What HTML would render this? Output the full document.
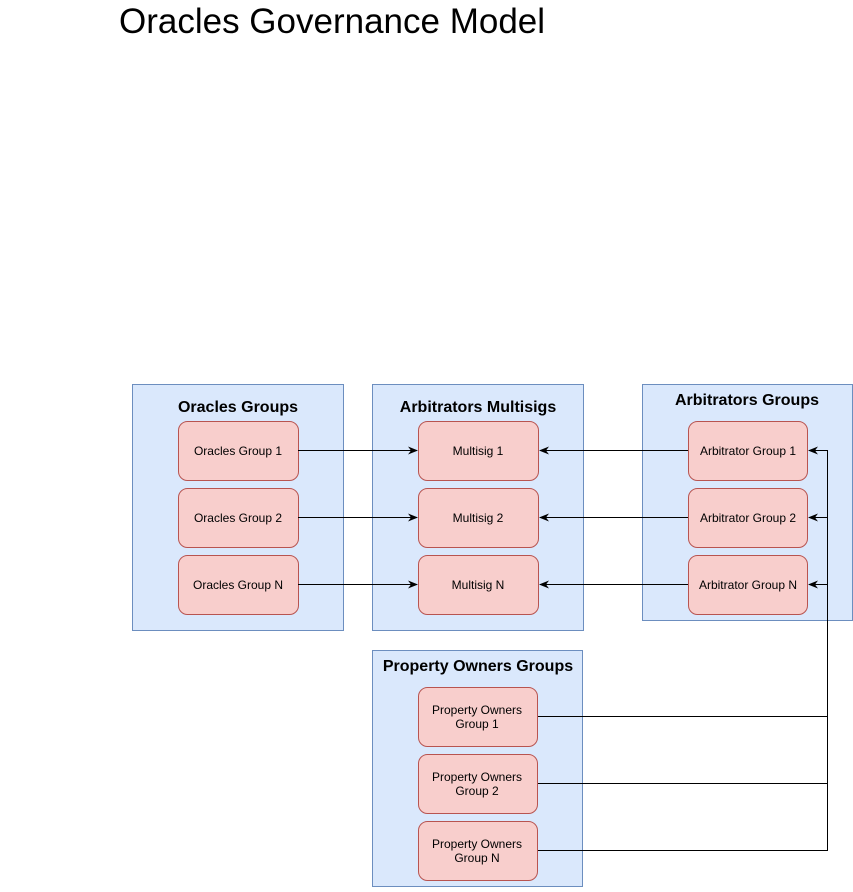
<!DOCTYPE html>
<html><head><style>body{margin:0;background:#fff}</style></head><body>
<svg width="853" height="887" xmlns="http://www.w3.org/2000/svg" font-family="Liberation Sans, Arial, sans-serif">
<defs><marker id="a" markerWidth="10" markerHeight="8" refX="9" refY="4" orient="auto" markerUnits="userSpaceOnUse"><path d="M0,0 L10,4 L0,8 L3,4 z" fill="#000"/></marker></defs>
<text x="119" y="33" font-size="35">Oracles Governance Model</text>
<g fill="#dae8fc" stroke="#6c8ebf">
<rect x="132.5" y="384.5" width="211" height="246"/>
<rect x="372.5" y="384.5" width="211" height="246"/>
<rect x="642.5" y="384.5" width="210" height="236"/>
<rect x="372.5" y="650.5" width="210" height="236"/>
</g>
<g font-size="16" font-weight="bold" text-anchor="middle">
<text x="238" y="412">Oracles Groups</text>
<text x="478" y="412">Arbitrators Multisigs</text>
<text x="747" y="405">Arbitrators Groups</text>
<text x="478" y="671">Property Owners Groups</text>
</g>
<g fill="#f8cecc" stroke="#b85450">
<rect x="178.5" y="421.5" width="120" height="59" rx="9"/>
<rect x="178.5" y="488.5" width="120" height="59" rx="9"/>
<rect x="178.5" y="555.5" width="120" height="59" rx="9"/>
<rect x="418.5" y="421.5" width="120" height="59" rx="9"/>
<rect x="418.5" y="488.5" width="120" height="59" rx="9"/>
<rect x="418.5" y="555.5" width="120" height="59" rx="9"/>
<rect x="688.5" y="421.5" width="119" height="59" rx="9"/>
<rect x="688.5" y="488.5" width="119" height="59" rx="9"/>
<rect x="688.5" y="555.5" width="119" height="59" rx="9"/>
<rect x="418.5" y="687.5" width="119" height="59" rx="9"/>
<rect x="418.5" y="754.5" width="119" height="59" rx="9"/>
<rect x="418.5" y="821.5" width="119" height="59" rx="9"/>
</g>
<g font-size="12" text-anchor="middle">
<text x="238" y="455">Oracles Group 1</text>
<text x="238" y="522">Oracles Group 2</text>
<text x="238" y="589">Oracles Group N</text>
<text x="478" y="455">Multisig 1</text>
<text x="478" y="522">Multisig 2</text>
<text x="478" y="589">Multisig N</text>
<text x="748" y="455">Arbitrator Group 1</text>
<text x="748" y="522">Arbitrator Group 2</text>
<text x="748" y="589">Arbitrator Group N</text>
<text x="477" y="714">Property Owners</text><text x="477" y="728">Group 1</text>
<text x="477" y="781">Property Owners</text><text x="477" y="795">Group 2</text>
<text x="477" y="848">Property Owners</text><text x="477" y="862">Group N</text>
</g>
<g stroke="#000" fill="none">
<path d="M298 450.5H417" marker-end="url(#a)"/>
<path d="M298 517.5H417" marker-end="url(#a)"/>
<path d="M298 584.5H417" marker-end="url(#a)"/>
<path d="M688 450.5H540" marker-end="url(#a)"/>
<path d="M688 517.5H540" marker-end="url(#a)"/>
<path d="M688 584.5H540" marker-end="url(#a)"/>
<path d="M538 716.5H827.5V450.5H809" marker-end="url(#a)"/>
<path d="M538 783.5H827.5"/>
<path d="M538 850.5H827.5V716"/>
<path d="M827.5 517.5H809" marker-end="url(#a)"/>
<path d="M827.5 584.5H809" marker-end="url(#a)"/>
</g>
</svg>
</body></html>
